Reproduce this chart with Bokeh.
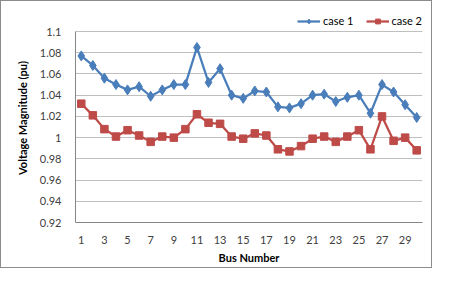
from bokeh.plotting import figure
from bokeh.models import FixedTicker, Legend, LegendItem, Range1d
from bokeh.embed import file_html
from bokeh.resources import INLINE

bus = list(range(1, 31))
case1 = [1.077, 1.068, 1.056, 1.050, 1.045, 1.048, 1.039, 1.045, 1.050, 1.050,
         1.085, 1.052, 1.065, 1.040, 1.037, 1.044, 1.043, 1.029, 1.028, 1.032,
         1.040, 1.041, 1.034, 1.038, 1.040, 1.023, 1.050, 1.043, 1.031, 1.019]
case2 = [1.032, 1.021, 1.008, 1.001, 1.007, 1.002, 0.996, 1.001, 1.000, 1.008,
         1.022, 1.014, 1.013, 1.001, 0.999, 1.004, 1.002, 0.989, 0.987, 0.992,
         0.999, 1.001, 0.996, 1.001, 1.007, 0.989, 1.020, 0.997, 1.000, 0.988]
x_ticks = [1, 3, 5, 7, 9, 11, 13, 15, 17, 19, 21, 23, 25, 27, 29]
y_ticks = [0.92, 0.94, 0.96, 0.98, 1.0, 1.02, 1.04, 1.06, 1.08, 1.1]
y_labels = ["0.92", "0.94", "0.96", "0.98", "1", "1.02", "1.04", "1.06", "1.08", "1.1"]
y_min, y_max = 0.92, 1.1
legend_room = 0.017  # extra space above the top tick, used for the legend

FONT = "Lato"
BLUE = "#4A7EBB"
RED = "#BE4B48"

p = figure(width=432, height=268, output_backend="svg", toolbar_location=None,
           x_range=Range1d(0.5, 30.5), y_range=Range1d(y_min, y_max + legend_room),
           min_border_left=74, min_border_right=11, min_border_top=12, min_border_bottom=47)
p.styles = {"border": "1px solid #8c8c8c"}
p.outline_line_color = None
p.background_fill_color = "white"
p.border_fill_color = "white"

r1 = p.line(bus, case1, line_color=BLUE, line_width=2.25)
m1 = p.scatter(bus, case1, marker="diamond", size=10, fill_color=BLUE, line_color=BLUE)
r2 = p.line(bus, case2, line_color=RED, line_width=2.25)
m2 = p.scatter(bus, case2, marker="square", size=7.5, fill_color=RED, line_color=RED)

p.xgrid.grid_line_color = None
p.ygrid.grid_line_color = "#BFBFBF"
p.ygrid.grid_line_width = 1

p.xaxis.ticker = FixedTicker(ticks=x_ticks)
p.yaxis.ticker = FixedTicker(ticks=y_ticks)
p.yaxis.bounds = (y_min, y_max)
p.yaxis.major_label_overrides = {t: l for t, l in zip(y_ticks, y_labels)}
for ax in (p.xaxis, p.yaxis):
    ax.axis_line_color = "#868686"
    ax.major_tick_line_color = None
    ax.minor_tick_line_color = None
    ax.major_label_text_font = FONT
    ax.major_label_text_font_size = "11px"
    ax.major_label_text_color = "#404040"
    ax.axis_label_text_font = FONT
    ax.axis_label_text_font_size = "11px"
    ax.axis_label_text_font_style = "bold"
    ax.axis_label_text_color = "#000000"
p.xaxis.axis_label = "Bus Number"
p.yaxis.axis_label = "Voltage Magnitude (pu)"
p.xaxis.major_label_standoff = 7
p.yaxis.major_label_standoff = 8
p.xaxis.axis_label_standoff = 4
p.yaxis.axis_label_standoff = 8

legend = Legend(items=[LegendItem(label="case 1", renderers=[r1, m1]),
                       LegendItem(label="case 2", renderers=[r2, m2])],
                orientation="horizontal", location=(222, 195))
legend.label_text_font = FONT
legend.label_text_font_size = "11px"
legend.label_text_color = "#000000"
legend.border_line_color = None
legend.background_fill_alpha = 0
legend.glyph_width = 23
legend.glyph_height = 12
legend.label_standoff = 3
legend.spacing = 12
legend.padding = 0
legend.margin = 0
p.add_layout(legend, "center")

open("out.html", "w").write(file_html(p, INLINE))
